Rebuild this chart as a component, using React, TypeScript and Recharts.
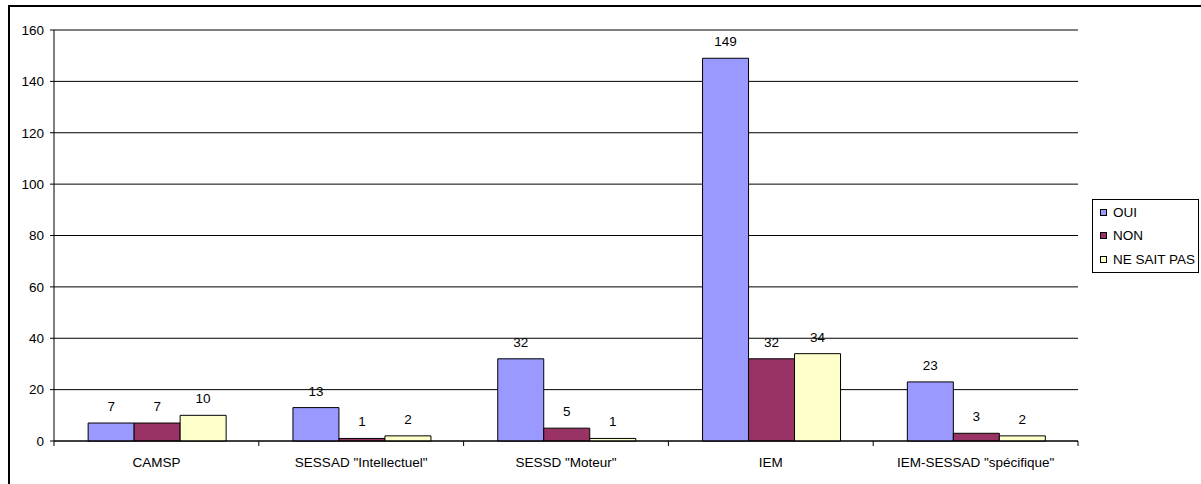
import React from 'react';
import { BarChart, Bar, XAxis, YAxis, CartesianGrid, Legend, LabelList, ReferenceLine } from 'recharts';

const categories = ['CAMSP', 'SESSAD "Intellectuel"', 'SESSD "Moteur"', 'IEM', 'IEM-SESSAD "spécifique"'];
const oui = [7, 13, 32, 149, 23];
const non = [7, 1, 5, 32, 3];
const neSaitPas = [10, 2, 1, 34, 2];
const seriesNames = ['OUI', 'NON', 'NE SAIT PAS'];
const yTicks = [0, 20, 40, 60, 80, 100, 120, 140, 160];

const data = categories.map((name, i) => ({
  name,
  oui: oui[i],
  non: non[i],
  nsp: neSaitPas[i],
}));

const W = 1201;
const H = 484;
const PLOT_LEFT = 54;
const PLOT_RIGHT = 1078;
const PLOT_TOP = 30;
const PLOT_BOTTOM = 441;
const FONT = '"Liberation Sans", Arial, sans-serif';
const FS = 13.5;

const halfBand = (PLOT_RIGHT - PLOT_LEFT) / categories.length / 2;

// category labels + tick marks on the category boundaries
const CategoryTick = (props: any) => {
  const { x, y, payload, index } = props;
  return (
    <g>
      <line x1={x - halfBand} x2={x - halfBand} y1={y} y2={y + 5} stroke="#000" />
      {index === categories.length - 1 && (
        <line x1={x + halfBand} x2={x + halfBand} y1={y} y2={y + 5} stroke="#000" />
      )}
      <text x={x} y={y + 26} textAnchor="middle" fontSize={FS} fontFamily={FONT} fill="#000">
        {payload.value}
      </text>
    </g>
  );
};

const LegendBox = (props: any) => {
  const items = [...(props.payload || [])].sort(
    (a: any, b: any) => seriesNames.indexOf(a.value) - seriesNames.indexOf(b.value)
  );
  return (
    <div
      style={{
        border: '1px solid #000',
        background: '#fff',
        width: 105,
        padding: '1px 0',
        fontFamily: FONT,
        fontSize: FS,
        color: '#000',
        boxSizing: 'content-box',
      }}
    >
      {items.map((p: any) => (
        <div key={p.value} style={{ height: 23.3, display: 'flex', alignItems: 'center', paddingLeft: 7 }}>
          <span
            style={{
              display: 'inline-block',
              width: 5,
              height: 5,
              border: '1px solid #000',
              background: p.color,
              marginRight: 6,
            }}
          />
          <span style={{ whiteSpace: 'nowrap' }}>{p.value}</span>
        </div>
      ))}
    </div>
  );
};

export default function App() {
  return (
    <div style={{ position: 'absolute', left: 0, top: 0, width: W, height: H, overflow: 'hidden', background: '#fff' }}>
      <div
        style={{
          position: 'absolute',
          left: 8,
          top: 5,
          width: W + 50,
          height: H + 50,
          border: '2px solid #000',
          boxSizing: 'border-box',
        }}
      />
      <div style={{ position: 'absolute', left: 0, top: 0 }}>
        <BarChart
          width={W}
          height={H}
          data={data}
          margin={{ top: PLOT_TOP, right: W - PLOT_RIGHT, bottom: 0, left: PLOT_LEFT - 46 }}
          barCategoryGap="16.67%"
          barGap={0}
        >
          <CartesianGrid vertical={false} stroke="#000" />
          <ReferenceLine y={160} stroke="#808080" />
          <XAxis
            dataKey="name"
            height={H - PLOT_BOTTOM}
            interval={0}
            tickSize={0}
            tickMargin={0}
            tickLine={false}
            axisLine={{ stroke: '#000' }}
            tick={<CategoryTick />}
          />
          <YAxis
            width={46}
            domain={[0, 160]}
            ticks={yTicks}
            tickSize={4}
            tickMargin={6}
            axisLine={{ stroke: '#000' }}
            tickLine={{ stroke: '#000' }}
            tick={{ fontSize: FS, fontFamily: FONT, fill: '#000' }}
          />
          <YAxis
            yAxisId="frame"
            orientation="right"
            width={0}
            domain={[0, 160]}
            tick={false}
            tickLine={false}
            axisLine={{ stroke: '#808080' }}
          />
          <Legend
            layout="vertical"
            align="center"
            verticalAlign="middle"
            content={<LegendBox />}
            wrapperStyle={{ position: 'absolute', left: 1092, top: 199, width: 107 }}
          />
          <Bar dataKey="oui" name={seriesNames[0]} fill="#9999FF" stroke="#000" strokeWidth={1} isAnimationActive={false}>
            <LabelList dataKey="oui" position="top" offset={12} fontSize={FS} fontFamily={FONT} fill="#000" />
          </Bar>
          <Bar dataKey="non" name={seriesNames[1]} fill="#993366" stroke="#000" strokeWidth={1} isAnimationActive={false}>
            <LabelList dataKey="non" position="top" offset={12} fontSize={FS} fontFamily={FONT} fill="#000" />
          </Bar>
          <Bar dataKey="nsp" name={seriesNames[2]} fill="#FFFFCC" stroke="#000" strokeWidth={1} isAnimationActive={false}>
            <LabelList dataKey="nsp" position="top" offset={12} fontSize={FS} fontFamily={FONT} fill="#000" />
          </Bar>
        </BarChart>
      </div>
    </div>
  );
}
